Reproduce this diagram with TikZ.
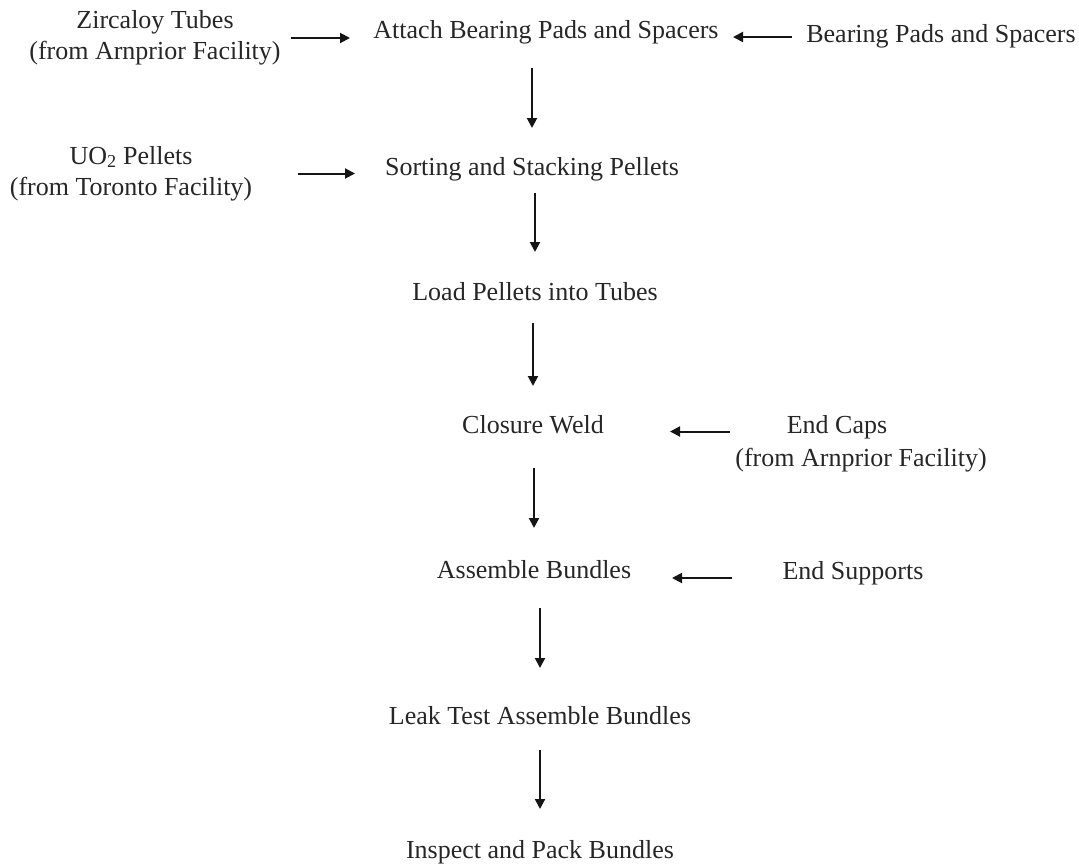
\documentclass[tikz,border=0pt]{standalone}
\usepackage{fontspec}
\setmainfont{Liberation Serif}
\usetikzlibrary{arrows.meta}
\definecolor{ink}{HTML}{262626}
\definecolor{arrowink}{HTML}{151515}
\begin{document}
\begin{tikzpicture}[x=1pt,y=-1pt,
  lbl/.style={inner sep=0pt, text=ink, font=\fontsize{26}{31}\selectfont, text height=18pt, text depth=6pt},
  lbltwo/.style={inner sep=0pt, text=ink, align=center, font=\fontsize{26}{31}\selectfont},
  arr/.style={draw=arrowink, line width=2pt, -{Triangle[length=10pt,width=10pt]}}]
\useasboundingbox (0,0) rectangle (1079,867);
% nodes
\node[lbltwo] (zirc) at (155,38) {Zircaloy Tubes\\(from Arnprior Facility)};
\node[lbl] (attach) at (546,33) {Attach Bearing Pads and Spacers};
\node[lbl] (bear) at (941,37) {Bearing Pads and Spacers};
\node[lbltwo] (uo2) at (131,173.5) {UO\textsubscript{2} Pellets\\(from Toronto Facility)};
\node[lbl] (sort) at (532,169) {Sorting and Stacking Pellets};
\node[lbl] (load) at (535,294) {Load Pellets into Tubes};
\node[lbl] (closure) at (533,427) {Closure Weld};
\node[lbltwo, font=\fontsize{26}{33}\selectfont] (caps) at (861,443.5) {End Caps\rule{48pt}{0pt}\\(from Arnprior Facility)};
\node[lbl] (assem) at (534,572) {Assemble Bundles};
\node[lbl] (supp) at (853,573) {End Supports};
\node[lbl] (leak) at (540,718) {Leak Test Assemble Bundles};
\node[lbl] (insp) at (540,852) {Inspect and Pack Bundles};
% horizontal connectors
\draw[arr, shorten <=136pt, shorten >=196pt] (zirc.center) -- (zirc.center -| attach.center);
\draw[arr, shorten <=149pt, shorten >=187pt] (bear.center) -- (bear.center -| attach.center);
\draw[arr, shorten <=167pt, shorten >=177pt] (uo2.center) -- (uo2.center -| sort.center);
\draw[arr, shorten <=131pt, shorten >=137pt] ([yshift=12pt]caps.center) -- ([yshift=12pt]caps.center -| closure.center);
\draw[arr, shorten <=121pt, shorten >=138pt] ([yshift=-5pt]supp.center) -- ([yshift=-5pt]supp.center -| assem.center);
% vertical connectors
\draw[arr, shorten <=35pt, shorten >=41pt] (attach.center -| sort.center) -- (sort.center);
\draw[arr, shorten <=24pt, shorten >=42pt] (sort.center -| load.center) -- (load.center);
\draw[arr, shorten <=29pt, shorten >=41pt] (load.center -| closure.center) -- (closure.center);
\draw[arr, shorten <=41pt, shorten >=44pt] (closure.center -| assem.center) -- (assem.center);
\draw[arr, shorten <=36pt, shorten >=50pt] (assem.center -| leak.center) -- (leak.center);
\draw[arr, shorten <=32pt, shorten >=43pt] (leak.center -| insp.center) -- (insp.center);
\end{tikzpicture}
\end{document}
